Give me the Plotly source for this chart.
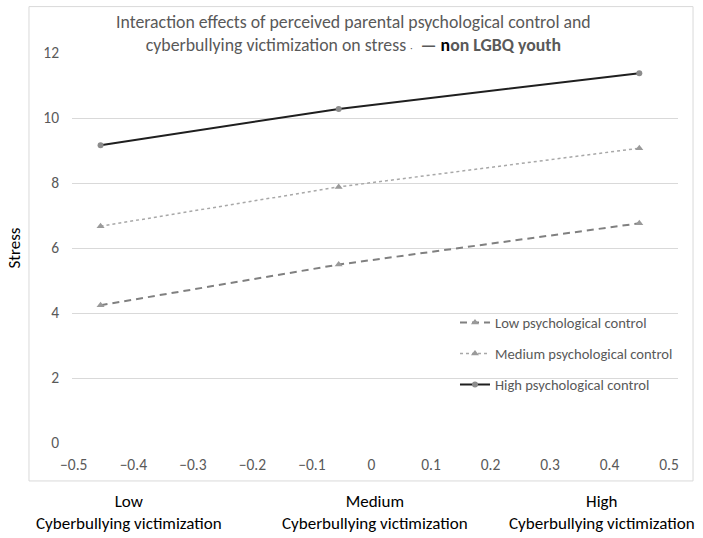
import plotly.graph_objects as go

# ---- data ----
victimization_x = [-0.455, -0.055, 0.45]
low_control = [4.24, 5.49, 6.76]
medium_control = [6.67, 7.88, 9.07]
high_control = [9.16, 10.28, 11.38]
series_names = ["Low psychological control", "Medium psychological control", "High psychological control"]
x_tick_values = [-0.5, -0.4, -0.3, -0.2, -0.1, 0, 0.1, 0.2, 0.3, 0.4, 0.5]
x_tick_text = ["\u22120.5", "\u22120.4", "\u22120.3", "\u22120.2", "\u22120.1", "0", "0.1", "0.2", "0.3", "0.4", "0.5"]
y_tick_values = [0, 2, 4, 6, 8, 10, 12]
category_labels = ["Low<br>Cyberbullying victimization",
                   "Medium<br>Cyberbullying victimization",
                   "High<br>Cyberbullying victimization"]
category_paper_x = [0.094, 0.50, 0.875]

FONT = "Carlito, Calibri, Lato, sans-serif"
GRAY_TXT = "#595959"

fig = go.Figure()
fig.add_trace(go.Scatter(
    x=victimization_x, y=low_control, name=series_names[0], legendgroup="a",
    mode="lines+markers",
    line=dict(color="#808080", width=2, dash="7px,5px"),
    marker=dict(symbol="triangle-up", size=7, color="#9a9a9a")))
fig.add_trace(go.Scatter(
    x=victimization_x, y=medium_control, name=series_names[1], legendgroup="b",
    mode="lines+markers",
    line=dict(color="#a8a8a8", width=1.5, dash="dot"),
    marker=dict(symbol="triangle-up", size=7, color="#9a9a9a")))
fig.add_trace(go.Scatter(
    x=victimization_x, y=high_control, name=series_names[2], legendgroup="c",
    mode="lines+markers",
    line=dict(color="#1f1f1f", width=2),
    marker=dict(symbol="circle", size=6, color="#8c8c8c")))

fig.update_layout(
    width=703, height=538,
    margin=dict(l=72, r=25, t=52.5, b=95),
    paper_bgcolor="white", plot_bgcolor="white",
    font=dict(family=FONT, size=15, color=GRAY_TXT),
    showlegend=True,
    legend=dict(x=0.632, y=0.35, xanchor="left", yanchor="top",
                bgcolor="rgba(0,0,0,0)", tracegroupgap=9,
                font=dict(family=FONT, size=14.6, color=GRAY_TXT)),
    xaxis=dict(range=[-0.503, 0.515], tickmode="array", tickvals=x_tick_values,
               ticktext=x_tick_text, showgrid=False, zeroline=False, showline=False,
               ticks="", ticklabelstandoff=10,
               tickfont=dict(family=FONT, size=15.5, color=GRAY_TXT)),
    yaxis=dict(range=[-0.0001, 12.0001], tickmode="array", tickvals=y_tick_values,
               showgrid=True, gridcolor="#d9d9d9", gridwidth=1, zeroline=False,
               showline=False, ticks="", ticklabelstandoff=12,
               tickfont=dict(family=FONT, size=15.5, color=GRAY_TXT),
               title=dict(text="Stress", standoff=18,
                          font=dict(family=FONT, size=17, color="#000000"))),
)

# chart border
fig.add_shape(type="rect", xref="paper", yref="paper",
              x0=-0.071, x1=1.0248, y0=-0.0973, y1=1.119,
              line=dict(color="#d9d9d9", width=1), fillcolor="rgba(0,0,0,0)", layer="below")

# title
fig.add_annotation(
    xref="paper", yref="paper", x=0.465, y=1.051, xanchor="center", yanchor="middle",
    showarrow=False, align="center",
    text=("Interaction effects of perceived parental psychological control and<br>"
          "cyberbullying victimization on stress <span style='font-size:9px'>\u00b7</span>  "
          "<b>\u2014 <span style='color:#000000'>n</span>on LGBQ youth</b>"),
    font=dict(family=FONT, size=17.8, color=GRAY_TXT))

# category labels beneath the axis
for lbl, px in zip(category_labels, category_paper_x):
    fig.add_annotation(xref="paper", yref="paper", x=px, y=-0.177,
                       xanchor="center", yanchor="middle", showarrow=False,
                       align="center", text=lbl,
                       font=dict(family=FONT, size=17, color="#000000"))

fig.write_html("out.html", config={"displayModeBar": False},
               post_script="document.body.style.margin='0px';document.body.style.overflow='hidden';")
